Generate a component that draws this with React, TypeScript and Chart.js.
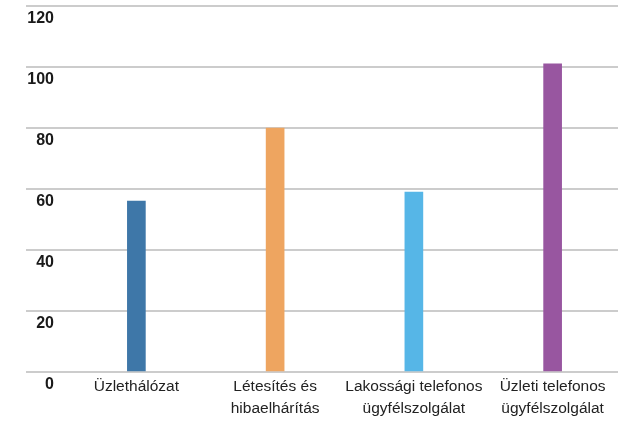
import React, { useEffect, useRef } from "react";
import { Chart, registerables } from "chart.js";

Chart.register(...registerables);

const categories: string[][] = [
  ["Üzlethálózat"],
  ["Létesítés és", "hibaelhárítás"],
  ["Lakossági telefonos", "ügyfélszolgálat"],
  ["Üzleti telefonos", "ügyfélszolgálat"],
];
const values: number[] = [56, 80, 59, 101];
const barColors: string[] = ["#3e77a8", "#eea560", "#56b6e7", "#9856a0"];
const yMin = 0;
const yMax = 120;
const yStep = 20;

const FONT = "'Liberation Sans', Arial, sans-serif";

export default function App() {
  const ref = useRef<HTMLCanvasElement | null>(null);

  useEffect(() => {
    document.body.style.margin = "0";
    const canvas = ref.current;
    if (!canvas) return;
    const chart = new Chart(canvas, {
      type: "bar",
      data: {
        labels: categories,
        datasets: [
          {
            data: values,
            backgroundColor: barColors,
            borderWidth: 0,
            barThickness: 18,
          },
        ],
      },
      options: {
        responsive: false,
        animation: false,
        layout: { padding: { top: 6, right: 0, left: 0, bottom: 0 } },
        plugins: { legend: { display: false }, tooltip: { enabled: false } },
        scales: {
          x: {
            grid: { display: false, drawTicks: false },
            border: { display: false },
            ticks: {
              color: "#222222",
              font: { family: FONT, size: 15.5, lineHeight: 1.42 },
              padding: 4,
              maxRotation: 0,
              autoSkip: false,
            },
            afterFit: (scale: any) => {
              scale.height = 69;
            },
          },
          y: {
            min: yMin,
            max: yMax,
            grid: { color: "#cccccc", lineWidth: 2, drawTicks: true, tickLength: 41 },
            border: { display: false },
            ticks: {
              stepSize: yStep,
              color: "#1a1a1a",
              font: { family: FONT, size: 16, weight: "bold" },
              padding: -28,
              labelOffset: 13,
            },
            afterFit: (scale: any) => {
              scale.width = 67;
            },
          },
        },
      },
    });
    return () => chart.destroy();
  }, []);

  return (
    <div style={{ width: 618, height: 441, overflow: "hidden" }}>
      <canvas ref={ref} width={622} height={441} style={{ display: "block" }} />
    </div>
  );
}
